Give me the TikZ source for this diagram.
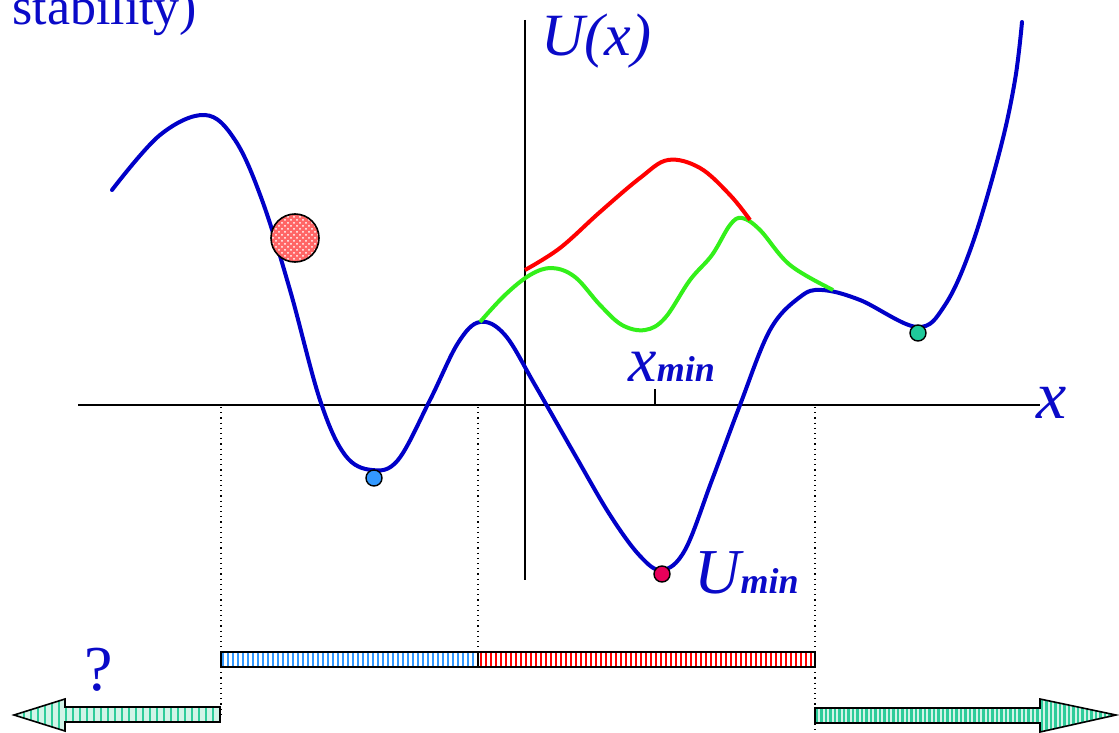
\documentclass[tikz,border=0pt]{standalone}
\usepackage{fontspec}
\setmainfont{Liberation Serif}
\usepackage{xcolor}
\usepackage{tikz}
\usetikzlibrary{patterns}
\definecolor{curveblue}{HTML}{0000C8}
\definecolor{textblue}{HTML}{0A0AC8}
\definecolor{pathgreen}{HTML}{33F01A}
\definecolor{pathred}{HTML}{FF0000}
\definecolor{dotblue}{HTML}{3399FF}
\definecolor{dotpink}{HTML}{E8005A}
\definecolor{dotteal}{HTML}{1FC99A}
\definecolor{stripeteal}{HTML}{2ECC9A}
\definecolor{paleteal}{HTML}{D2F4E8}

\tikzset{
  curve/.style={curveblue, line width=2pt, line cap=round},
  axis/.style={black, line width=0.75pt},
  guide/.style={black, dotted, line width=0.6pt},
  minpt/.style={circle, draw=black, line width=0.7pt, inner sep=0pt, minimum size=8pt},
  lbl/.style={text=textblue, inner sep=0pt, anchor=base west},
  stripe/.style={line width=1.4pt},
  barframe/.style={draw=black, line width=0.8pt},
}

\begin{document}
\begin{tikzpicture}[x=0.5pt,y=-0.5pt]
      \clip (0,0) rectangle (1119,733);
      % axes
      \draw[axis] (78,405) -- (1040,405);
      \draw[axis] (525,20) -- (525,580);
      \draw[axis] (655,405) -- (655,389);
      \draw[guide] (221,407) -- (221,716);
      \draw[guide] (478,407) -- (478,660);
      \draw[guide] (815,407) -- (815,730);
      % potential and the two paths over the barrier
      \draw[curve] plot[smooth, tension=0.6] coordinates {(112,190) (160,135) (205,115) (235,140) (262,200) (290,290) (320,400) (345,455) (372,470) (398,460) (430,400) (458,343) (480,322) (505,335) (535,385) (575,455) (610,515) (640,556) (662,570) (685,550) (712,480) (740,405) (770,330) (800,297) (822,290) (860,300) (917,327) (945,305) (972,245) (1000,150) (1015,80) (1022,22)};
      \draw[pathgreen, line width=2pt] plot[smooth, tension=0.6] coordinates {(480,322) (505,295) (530,275) (552,268) (575,277) (600,305) (622,325) (645,330) (665,318) (690,280) (712,255) (730,225) (742,218) (760,230) (790,265) (833,290)};
      \draw[pathred, line width=2pt] plot[smooth, tension=0.6] coordinates {(525,270) (560,248) (600,212) (640,178) (668,160) (700,168) (730,195) (750,220)};
      % ball
      \fill[red!60] (295,238) circle (12pt);
      \fill[pattern=crosshatch dots, pattern color=white] (295,238) circle (12pt);
      \draw[black, line width=0.8pt] (295,238) circle (12pt);
      % minima
      \node[minpt, fill=dotblue] (minleft) at (374,478) {};
      \node[minpt, fill=dotpink] (minglobal) at (662,574) {};
      \node[minpt, fill=dotteal] (minright) at (918,333) {};
      % labels
      \node[lbl, font=\fontsize{26}{30}\selectfont] (stab) at (12,25) {stability)};
      \node[lbl, font=\fontsize{30}{34}\selectfont\itshape] (ulabel) at (541,56) {U(x)};
      \node[lbl, font=\fontsize{34}{38}\selectfont\itshape] (xlabel) at (1036,418) {x};
      \node[lbl] (xmin) at (628,381) {\fontsize{32}{36}\selectfont\itshape x\fontsize{18}{20}\selectfont\bfseries min};
      \node[lbl] (umin) at (694,593) {\fontsize{32}{36}\selectfont\itshape U\fontsize{18}{20}\selectfont\bfseries min};
      \node[lbl, font=\fontsize{32}{36}\selectfont] (qmark) at (84,690) {?};
      % striped bars
      \foreach \s in {223,228,...,476}
        \draw[stripe, dotblue] (\s,653) -- (\s,666);
      \foreach \s in {481,486,...,813}
        \draw[stripe, red] (\s,653) -- (\s,666);
      \draw[barframe] (221,652) rectangle (478,667);
      \draw[barframe] (478,652) rectangle (815,667);
      % arrows
      \begin{scope}
        \clip (220,707) -- (65,707) -- (65,699) -- (14,715) -- (65,731) -- (65,722) -- (220,722) -- cycle;
        \fill[paleteal] (10,695) rectangle (222,735);
        \foreach \s in {17,24,...,220}
          \draw[stripe, stripeteal] (\s,695) -- (\s,735);
      \end{scope}
      \draw[barframe] (220,707) -- (65,707) -- (65,699) -- (14,715) -- (65,731) -- (65,722) -- (220,722) -- cycle;
      \begin{scope}
        \clip (815,708) -- (1040,708) -- (1040,699) -- (1116,715) -- (1040,732) -- (1040,723) -- (815,723) -- cycle;
        \fill[paleteal] (812,695) rectangle (1119,735);
        \foreach \s in {817,821.5,...,1116}
          \draw[line width=1.1pt, stripeteal] (\s,695) -- (\s,735);
      \end{scope}
      \draw[barframe] (815,708) -- (1040,708) -- (1040,699) -- (1116,715) -- (1040,732) -- (1040,723) -- (815,723) -- cycle;
    \end{tikzpicture}
\end{document}
